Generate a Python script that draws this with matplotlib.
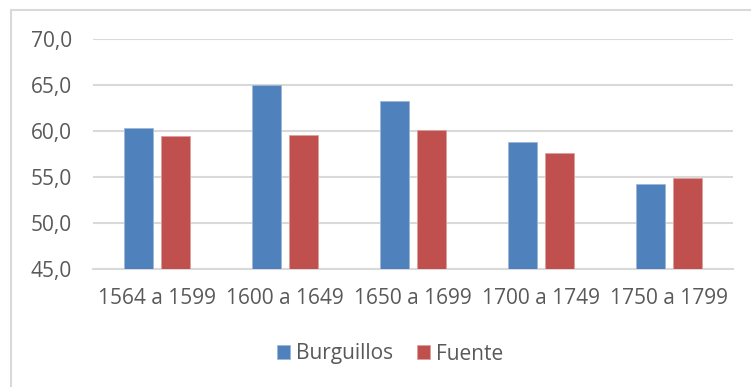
import numpy as np
import matplotlib.pyplot as plt
from matplotlib.patches import Rectangle

plt.rcParams['font.family'] = ['Open Sans', 'DejaVu Sans']

periodos = ["1564 a 1599", "1600 a 1649", "1650 a 1699", "1700 a 1749", "1750 a 1799"]
burguillos = [60.3, 65.0, 63.3, 58.8, 54.2]
fuente = [59.5, 59.6, 60.1, 57.6, 54.9]

azul = "#4F81BD"
rojo = "#C0504D"
gris_texto = "#595959"
gris_rejilla = "#D9D9D9"

fig = plt.figure(figsize=(7.51, 3.87), dpi=100)
ax = fig.add_axes([93 / 751, 1 - 268.7 / 387, 640 / 751, (268.7 - 39.3) / 387])

x = np.arange(len(periodos))
ancho = 0.227
desp = 0.143
ax.bar(x - desp, np.array(burguillos) - 45, ancho, bottom=45, color=azul,
       edgecolor="#9DB7DA", linewidth=0.6, label="Burguillos", zorder=3)
ax.bar(x + desp, np.array(fuente) - 45, ancho, bottom=45, color=rojo,
       edgecolor="#DE9E9C", linewidth=0.6, label="Fuente", zorder=3)

ax.set_xlim(-0.5, len(periodos) - 0.5)
ax.set_ylim(45, 70)
ax.set_yticks(np.arange(45, 71, 5))
ax.set_yticklabels([f"{v:.1f}".replace(".", ",") for v in np.arange(45, 71, 5)])
ax.set_xticks(x)
ax.set_xticklabels(periodos)

ax.grid(axis="y", color=gris_rejilla, linewidth=1.5, zorder=0)
for s in ["top", "right", "left"]:
    ax.spines[s].set_visible(False)
ax.spines["bottom"].set_color(gris_rejilla)
ax.spines["bottom"].set_linewidth(1.5)
ax.tick_params(axis="both", length=0, labelsize=15, labelcolor=gris_texto)
ax.tick_params(axis="y", pad=15)
ax.tick_params(axis="x", pad=14)

leg = fig.legend(loc="center", bbox_to_anchor=(390 / 751, 1 - 354 / 387), ncol=2,
                 frameon=False, fontsize=15, handlelength=0.62, handleheight=0.62,
                 handletextpad=0.3, columnspacing=1.15)
for t in leg.get_texts():
    t.set_color(gris_texto)

# marco del área del gráfico
fig.patches.append(Rectangle((11 / 751, -0.05), 1.0, 1 - 10 / 387 + 0.05,
                             transform=fig.transFigure, fill=False,
                             edgecolor=gris_rejilla, linewidth=1.5))

fig.savefig("out.png", dpi=100)
